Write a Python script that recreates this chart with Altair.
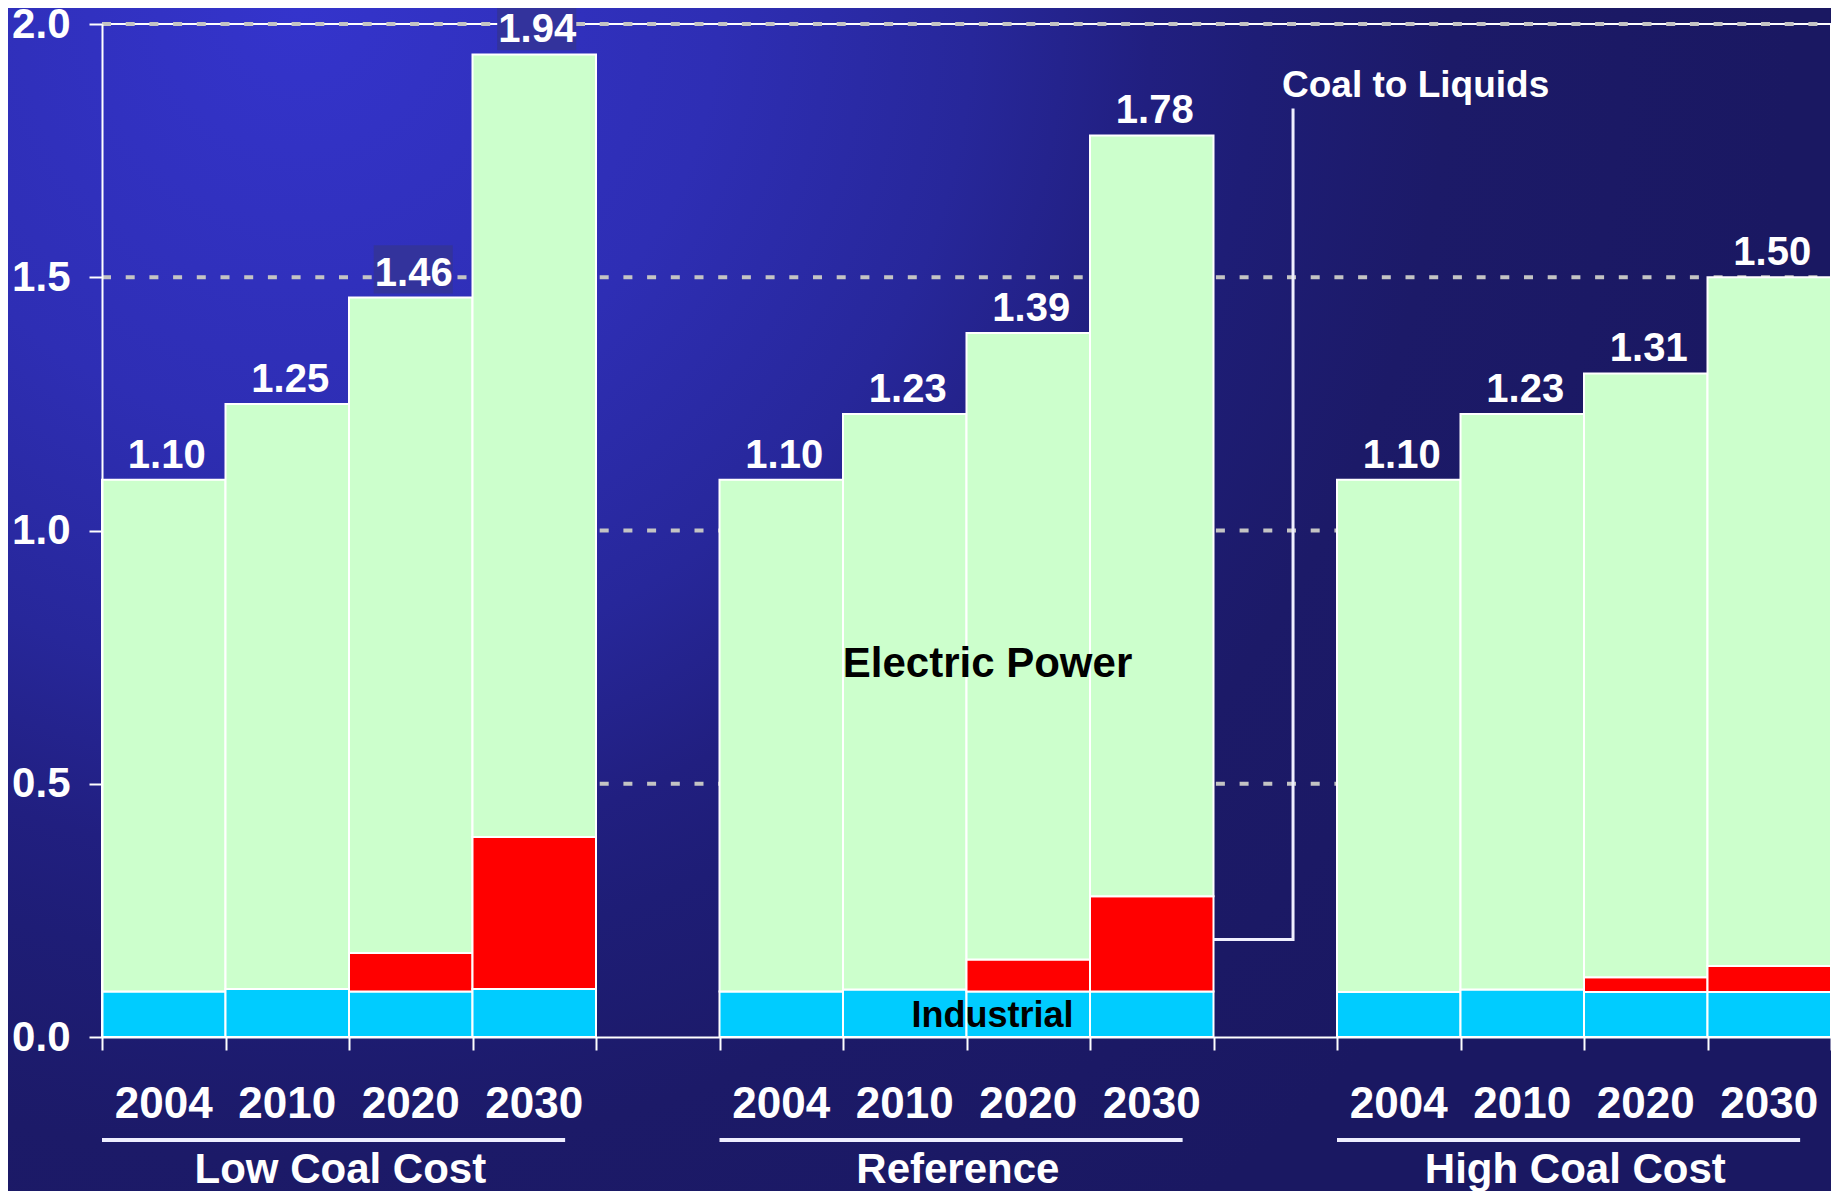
import altair as alt
import pandas as pd

# ---------------- data ----------------
groups = ["Low Coal Cost", "Reference", "High Coal Cost"]
years = ["2004", "2010", "2020", "2030"]
sectors = ["Industrial", "Coal to Liquids", "Electric Power"]
sector_colors = ["#00CCFF", "#FF0000", "#CCFFCC"]

industrial = [
    [0.090, 0.095, 0.090, 0.095],
    [0.090, 0.094, 0.090, 0.090],
    [0.089, 0.094, 0.089, 0.089],
]
coal_to_liquids = [
    [0.000, 0.000, 0.076, 0.300],
    [0.000, 0.000, 0.063, 0.188],
    [0.000, 0.000, 0.029, 0.051],
]
electric_power = [
    [1.010, 1.155, 1.294, 1.545],
    [1.010, 1.136, 1.237, 1.502],
    [1.011, 1.136, 1.192, 1.360],
]
totals = [
    [1.10, 1.25, 1.46, 1.94],
    [1.10, 1.23, 1.39, 1.78],
    [1.10, 1.23, 1.31, 1.50],
]
y_ticks = [0.0, 0.5, 1.0, 1.5, 2.0]
grid_values = [0.5, 1.0, 1.5, 2.0]

# annotation anchors (data units: slot, value)
ctl_leader_x = [9.0, 9.644, 9.644]
ctl_leader_y = [0.1925, 0.1925, 1.833]

# ---------------- layout / style ----------------
W, H = 1729, 1013
PAD = {"left": 94, "top": 16, "right": 0, "bottom": 154}
FONT = "Liberation Sans"
N_SLOTS = 14
Y_MAX = 2.0
WHITE = "#FFFFFF"

series = [industrial, coal_to_liquids, electric_power]
rows, label_rows = [], []
for g, grp in enumerate(groups):
    for i, yr in enumerate(years):
        slot = g * 5 + i
        for k, sec in enumerate(sectors):
            rows.append({"slot": slot, "slot_end": slot + 1, "group": grp, "year": yr,
                         "sector": sec, "value": series[k][g][i], "order": k})
        label_rows.append({"slot": slot, "center": slot + 0.5, "year": yr,
                           "total": totals[g][i], "zero": 0.0})
bars_df = pd.DataFrame(rows)
labels_df = pd.DataFrame(label_rows)
group_df = pd.DataFrame({
    "group": groups,
    "start": [g * 5 for g in range(3)],
    "end": [g * 5 + 3.75 for g in range(3)],
    "mid": [g * 5 + 1.93 for g in range(3)],
    "zero": [0.0, 0.0, 0.0],
})
leader_df = pd.DataFrame({"x": ctl_leader_x, "y": ctl_leader_y, "o": [0, 1, 2]})
grid_df = pd.DataFrame({"v": grid_values, "x0": [0] * 4, "x1": [N_SLOTS] * 4})
frame_h = pd.DataFrame({"x0": [0], "x1": [N_SLOTS], "v": [Y_MAX]})
frame_v = pd.DataFrame({"x": [N_SLOTS], "y0": [0.0], "y1": [Y_MAX]})

xscale = alt.Scale(domain=[0, N_SLOTS], nice=False, zero=False)
yscale = alt.Scale(domain=[0, Y_MAX], nice=False)

XAX = alt.Axis(values=list(range(N_SLOTS + 1)), labels=False, ticks=True,
               tickSize=13, tickWidth=2, tickColor=WHITE,
               domainColor=WHITE, domainWidth=2, grid=False,
               title=None, zindex=1)
YAX = alt.Axis(values=y_ticks, format=".1f", labelFont=FONT,
               labelFontSize=42, labelFontWeight="bold", labelColor=WHITE,
               labelPadding=19, tickSize=13, tickWidth=2, tickColor=WHITE,
               domainColor=WHITE, domainWidth=2, grid=False,
               title=None, zindex=1)


def X(field):
    return alt.X(field, type="quantitative", scale=xscale, axis=XAX)


def Y(field):
    return alt.Y(field, type="quantitative", scale=yscale, axis=YAX)


# background with radial gradient (square so the gradient is round)
SIDE = W + PAD["left"]
bg = alt.Chart(pd.DataFrame({"k": [0]})).mark_rect(
    fill={
        "gradient": "radial",
        "x1": 0.16, "y1": 0.0, "r1": 0,
        "x2": 0.16, "y2": 0.0, "r2": 0.82,
        "stops": [
            {"offset": 0.0, "color": "#3434CC"},
            {"offset": 0.28, "color": "#2E2EB4"},
            {"offset": 0.45, "color": "#27279A"},
            {"offset": 0.57, "color": "#211F80"},
            {"offset": 0.64, "color": "#1E1D76"},
            {"offset": 0.77, "color": "#1C1A68"},
            {"offset": 1.0, "color": "#1A1862"},
        ],
    }
).encode(
    x=alt.value(-PAD["left"]), x2=alt.value(W),
    y=alt.value(-PAD["top"]), y2=alt.value(SIDE - PAD["top"]),
)

# plot frame (top and right)
frame_top = alt.Chart(frame_h).mark_rule(color=WHITE, strokeWidth=2).encode(
    x=X("x0"), x2="x1:Q", y=Y("v")
)
frame_right = alt.Chart(frame_v).mark_rule(color=WHITE, strokeWidth=2).encode(
    x=X("x"), y=Y("y0"), y2="y1:Q"
)

# dashed gridlines
grid = alt.Chart(grid_df).mark_rule(color="#C4C4C4", strokeWidth=4, strokeDash=[9, 14.7]).encode(
    x=X("x0"), x2="x1:Q", y=Y("v")
)

# stacked bars
bars = alt.Chart(bars_df).transform_stack(
    stack="value", groupby=["slot"], as_=["y0", "y1"],
    sort=[alt.SortField("order", order="ascending")],
).transform_filter("datum.value > 0").mark_rect(stroke=WHITE, strokeWidth=2).encode(
    x=X("slot"), x2="slot_end:Q",
    y=Y("y0"), y2="y1:Q",
    color=alt.Color("sector:N", scale=alt.Scale(domain=sectors, range=sector_colors),
                    legend=None),
)

# label boxes where a total label sits on a gridline
boxes = alt.Chart(labels_df).transform_calculate(
    gap="ceil(datum.total * 2) / 2 - datum.total",
    bx0="datum.center - 0.30", bx1="datum.center + 0.34",
    by0="datum.total + 0.008", by1="datum.total + 0.103",
).transform_filter("datum.gap > 0 && datum.gap < 0.08").mark_rect(color="#33339C").encode(
    x=X("bx0"), x2="bx1:Q", y=Y("by0"), y2="by1:Q"
)

value_labels = alt.Chart(labels_df).mark_text(
    font=FONT, fontSize=40, fontWeight="bold", color=WHITE, baseline="alphabetic",
    dx=3, dy=-12
).encode(x=X("center"), y=Y("total"), text=alt.Text("total:Q", format=".2f"))

year_labels = alt.Chart(labels_df).mark_text(
    font=FONT, fontSize=44, fontWeight="bold", color=WHITE, baseline="alphabetic", dy=81
).encode(x=X("center"), y=Y("zero"), text="year:N")

underlines = alt.Chart(group_df).mark_rule(color="#EEEEFF", strokeWidth=4, yOffset=103).encode(
    x=X("start"), x2="end:Q", y=Y("zero")
)

group_labels = alt.Chart(group_df).mark_text(
    font=FONT, fontSize=42, fontWeight="bold", color=WHITE, baseline="alphabetic", dy=146
).encode(x=X("mid"), y=Y("zero"), text="group:N")

leader = alt.Chart(leader_df).mark_line(color="#F0F0FF", strokeWidth=3).encode(
    x=X("x"), y=Y("y"), order="o:Q"
)

ann_x = [9.555, 7.17, 7.21]
ann_y = [1.856, 0.710, 0.0197]
ann_text = ["Coal to Liquids", "Electric Power", "Industrial"]
ann_ctl = alt.Chart(pd.DataFrame({"x": [ann_x[0]], "y": [ann_y[0]], "t": [ann_text[0]]})).mark_text(
    font=FONT, fontSize=37, fontWeight="bold", color=WHITE, align="left", baseline="alphabetic"
).encode(x=X("x"), y=Y("y"), text="t:N")
ann_ep = alt.Chart(pd.DataFrame({"x": [ann_x[1]], "y": [ann_y[1]], "t": [ann_text[1]]})).mark_text(
    font=FONT, fontSize=42, fontWeight="bold", color="black", align="center", baseline="alphabetic"
).encode(x=X("x"), y=Y("y"), text="t:N")
ann_ind = alt.Chart(pd.DataFrame({"x": [ann_x[2]], "y": [ann_y[2]], "t": [ann_text[2]]})).mark_text(
    font=FONT, fontSize=36, fontWeight="bold", color="black", align="center", baseline="alphabetic"
).encode(x=X("x"), y=Y("y"), text="t:N")

chart = alt.layer(
    bg, frame_top, frame_right, grid, bars, boxes, value_labels, year_labels,
    underlines, group_labels, leader, ann_ctl, ann_ep, ann_ind,
).properties(
    width=W, height=H, padding=PAD,
    autosize=alt.AutoSizeParams(type="none"),
    background="#1C1A66",
).configure_view(strokeWidth=0)

chart.save("out.html", embed_options={"renderer": "svg", "actions": False})
